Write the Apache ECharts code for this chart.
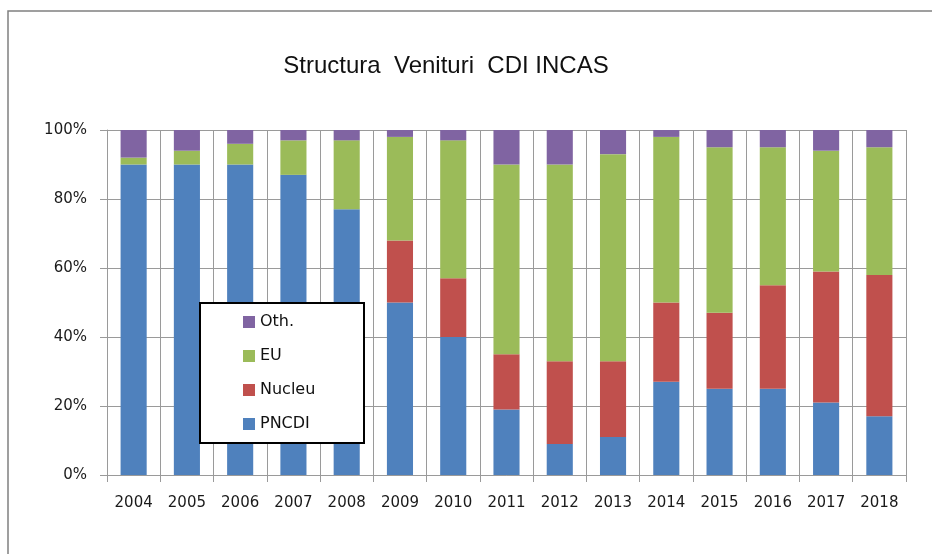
<!DOCTYPE html>
<html>
<head>
<meta charset="utf-8">
<script src="https://cdn.jsdelivr.net/npm/echarts@6/dist/echarts.min.js"></script>
<style>
html,body{margin:0;padding:0;background:#fff;}
#chart{width:932px;height:554px;}
</style>
</head>
<body>
<div id="chart"></div>
<script>
var years = ['2004','2005','2006','2007','2008','2009','2010','2011','2012','2013','2014','2015','2016','2017','2018'];
var pncdi  = [90, 90, 90, 87, 77, 50, 40, 19,  9, 11, 27, 25, 25, 21, 17];
var nucleu = [ 0,  0,  0,  0,  0, 18, 17, 16, 24, 22, 23, 22, 30, 38, 41];
var eu     = [ 2,  4,  6, 10, 20, 30, 40, 55, 57, 60, 48, 48, 40, 35, 37];
var oth    = [ 8,  6,  4,  3,  3,  2,  3, 10, 10,  7,  2,  5,  5,  6,  5];
var yTicks = [0, 20, 40, 60, 80, 100];

var gridColor = '#9a9a9a';
var chart = echarts.init(document.getElementById('chart'));

function barSeries(name, data, color){
	return {
		name: name,
		type: 'bar',
		stack: 'total',
		barWidth: '49%',
		itemStyle: { color: color },
		data: data
	};
}

chart.setOption({
	animation: false,
	title: {
		text: 'Structura  Venituri  CDI INCAS',
		left: 441,
		top: 49,
		textAlign: 'center',
		textStyle: { fontFamily: 'Liberation Sans', fontSize: 24, fontWeight: 'normal', color: '#111' }
	},
	graphic: [
		{ type: 'rect', z: -1, shape: { x: 8, y: 11, width: 940, height: 560 },
		  style: { fill: 'none', stroke: '#808080', lineWidth: 1.5 } },
		{ type: 'rect', z: 10, shape: { x: 200, y: 303, width: 164, height: 140 },
		  style: { fill: '#fff', stroke: '#000', lineWidth: 2 } }
	],
	legend: {
		orient: 'vertical',
		left: 243,
		top: 314,
		z: 20,
		padding: 0,
		icon: 'rect',
		itemWidth: 12,
		itemHeight: 12,
		itemGap: 18,
		data: ['Oth.', 'EU', 'Nucleu', 'PNCDI'],
		textStyle: { fontFamily: 'DejaVu Sans', fontSize: 16, lineHeight: 16, color: '#111' }
	},
	grid: { left: 107, right: 26, top: 130, bottom: 79 },
	xAxis: {
		type: 'category',
		data: years,
		axisLine: { lineStyle: { color: gridColor, width: 1 } },
		axisTick: { show: true, length: 7, lineStyle: { color: gridColor } },
		splitLine: { show: true, lineStyle: { color: gridColor, width: 1 } },
		axisLabel: { margin: 21, fontFamily: 'DejaVu Sans', fontSize: 15, color: '#1a1a1a' }
	},
	yAxis: {
		type: 'value',
		min: yTicks[0],
		max: yTicks[yTicks.length - 1],
		interval: 20,
		axisLine: { show: true, lineStyle: { color: gridColor, width: 1 } },
		axisTick: { show: true, length: 7, lineStyle: { color: gridColor } },
		splitLine: { show: true, lineStyle: { color: gridColor, width: 1 } },
		axisLabel: { margin: 20, formatter: '{value}%', fontFamily: 'DejaVu Sans', fontSize: 15, color: '#1a1a1a' }
	},
	series: [
		barSeries('PNCDI', pncdi, '#4F81BD'),
		barSeries('Nucleu', nucleu, '#C0504D'),
		barSeries('EU', eu, '#9BBB59'),
		barSeries('Oth.', oth, '#8064A2')
	]
});
</script>
</body>
</html>
